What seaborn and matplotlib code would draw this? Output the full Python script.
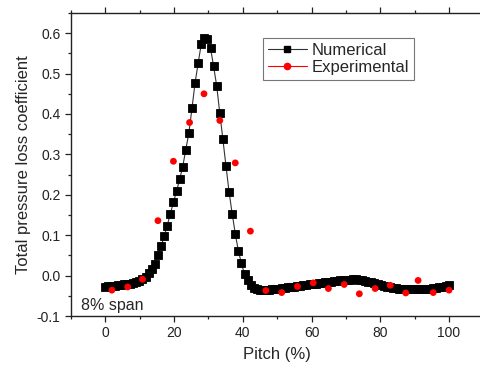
import matplotlib
matplotlib.use("Agg")
import matplotlib.pyplot as plt
from matplotlib.lines import Line2D
from matplotlib.ticker import MultipleLocator
import numpy as np
import pandas as pd
import seaborn as sns

# Numerical (CFD) total pressure loss coefficient along the pitch
pitch_num = [
    0.0, 0.9, 1.8, 2.7, 3.6, 4.5, 5.4, 6.3, 7.2, 8.1,
    9.0, 9.9, 10.8, 11.7, 12.6, 13.5, 14.4, 15.3, 16.2, 17.1,
    18.0, 18.9, 19.8, 20.7, 21.6, 22.5, 23.4, 24.3, 25.2, 26.1,
    27.0, 27.9, 28.8, 29.7, 30.6, 31.5, 32.4, 33.3, 34.2, 35.1,
    36.0, 36.9, 37.8, 38.7, 39.6, 40.5, 41.4, 42.3, 43.2, 44.1,
    45.0, 45.9, 46.8, 47.7, 48.6, 49.5, 50.4, 51.3, 52.2, 53.1,
    54.0, 54.9, 55.8, 56.7, 57.6, 58.5, 59.4, 60.3, 61.2, 62.1,
    63.0, 63.9, 64.8, 65.7, 66.6, 67.5, 68.4, 69.3, 70.2, 71.1,
    72.0, 72.9, 73.8, 74.7, 75.6, 76.5, 77.4, 78.3, 79.2, 80.1,
    81.0, 81.9, 82.8, 83.7, 84.6, 85.5, 86.4, 87.3, 88.2, 89.1,
    90.0, 90.9, 91.8, 92.7, 93.6, 94.5, 95.4, 96.3, 97.2, 98.1,
    99.0, 99.9,
]
loss_num = [
    -0.027, -0.026, -0.026, -0.025, -0.024, -0.023, -0.022, -0.021, -0.020, -0.018,
    -0.016, -0.013, -0.009, -0.003, 0.006, 0.016, 0.029, 0.050, 0.073, 0.097,
    0.124, 0.153, 0.181, 0.209, 0.238, 0.269, 0.312, 0.353, 0.414, 0.477,
    0.526, 0.573, 0.587, 0.586, 0.563, 0.518, 0.469, 0.402, 0.337, 0.271,
    0.207, 0.153, 0.104, 0.061, 0.030, 0.003, -0.012, -0.024, -0.030, -0.034,
    -0.036, -0.036, -0.035, -0.035, -0.034, -0.033, -0.032, -0.031, -0.030, -0.029,
    -0.028, -0.027, -0.026, -0.025, -0.024, -0.023, -0.022, -0.021, -0.020, -0.019,
    -0.018, -0.017, -0.016, -0.015, -0.014, -0.013, -0.012, -0.011, -0.010, -0.010,
    -0.009, -0.009, -0.010, -0.011, -0.013, -0.015, -0.017, -0.019, -0.021, -0.023,
    -0.025, -0.027, -0.029, -0.030, -0.031, -0.032, -0.033, -0.033, -0.033, -0.034,
    -0.034, -0.034, -0.034, -0.033, -0.033, -0.032, -0.031, -0.030, -0.029, -0.027,
    -0.025, -0.023,
]

# Experimental measurements
pitch_exp = [
    1.9, 6.5, 10.8, 15.3, 19.8, 24.5, 28.7, 33.3, 37.8, 42.2,
    46.7, 51.3, 55.9, 60.5, 64.9, 69.5, 73.9, 78.5, 82.9, 87.4,
    91.0, 95.4, 100.0,
]
loss_exp = [
    -0.036, -0.028, -0.009, 0.136, 0.283, 0.379, 0.450, 0.384, 0.279, 0.110,
    -0.037, -0.042, -0.027, -0.018, -0.032, -0.022, -0.045, -0.032, -0.024, -0.043,
    -0.012, -0.042, -0.036,
]

x_ticks = [0, 20, 40, 60, 80, 100]
y_ticks = [-0.1, 0.0, 0.1, 0.2, 0.3, 0.4, 0.5, 0.6]

sns.set_style("ticks")
plt.rcParams["font.family"] = ["Liberation Sans", "DejaVu Sans"]
plt.rcParams["axes.linewidth"] = 1.0
plt.rcParams["axes.edgecolor"] = "#222222"

num_df = pd.DataFrame({"pitch": pitch_num, "loss": loss_num})
exp_df = pd.DataFrame({"pitch": pitch_exp, "loss": loss_exp})

fig = plt.figure(figsize=(4.8, 3.69), dpi=100)
ax = fig.add_axes([71 / 480, (369 - 316) / 369, 412.4 / 480, 303 / 369])

sns.lineplot(data=num_df, x="pitch", y="loss", ax=ax, color="#333333",
             linewidth=0.8, marker="s", markersize=5.6, markerfacecolor="black",
             markeredgecolor="black", markeredgewidth=0.6, legend=False,
             zorder=2)
sns.scatterplot(data=exp_df, x="pitch", y="loss", ax=ax, color="#ff0000",
                s=24, edgecolor="none", legend=False, zorder=3)

ax.set_xlim(-10, 110)
ax.set_ylim(-0.1, 0.65)
ax.set_xticks(x_ticks)
ax.set_yticks(y_ticks)
ax.set_yticklabels([f"{v:.1f}" for v in y_ticks])
ax.xaxis.set_minor_locator(MultipleLocator(10))
ax.yaxis.set_minor_locator(MultipleLocator(0.05))

for s in ["top", "left", "bottom", "right"]:
    ax.spines[s].set_visible(True)
ax.tick_params(axis="both", which="major", direction="out", length=4.5,
               width=0.9, labelsize=10, colors="#222222", pad=3)
ax.tick_params(axis="both", which="minor", direction="out", length=2.5,
               width=0.9, colors="#222222")
ax.tick_params(axis="x", which="both", top=True, labeltop=False)
ax.tick_params(axis="y", which="both", right=False)

ax.set_xlabel("Pitch (%)", fontsize=12, labelpad=5)
ax.set_ylabel("Total pressure loss coefficient", fontsize=12, labelpad=4)

ax.text(-7.1, -0.086, "8% span", fontsize=11.5, ha="left", va="baseline")

handles = [
    Line2D([], [], color="#333333", linewidth=0.8, marker="s", markersize=4,
           markerfacecolor="black", markeredgecolor="black"),
    Line2D([], [], color="#ff0000", linewidth=0.8, marker="o", markersize=4.5,
           markerfacecolor="#ff0000", markeredgecolor="#ff0000"),
]
leg = ax.legend(handles, ["Numerical", "Experimental"], loc="upper left",
                bbox_to_anchor=(0.466, 0.918), borderaxespad=0, fontsize=12,
                frameon=True, fancybox=False, framealpha=1, edgecolor="#777777",
                handlelength=2.3, handletextpad=0.3, labelspacing=0.12,
                borderpad=0.3)
leg.get_frame().set_linewidth(0.8)

fig.savefig("out.png", dpi=100)
